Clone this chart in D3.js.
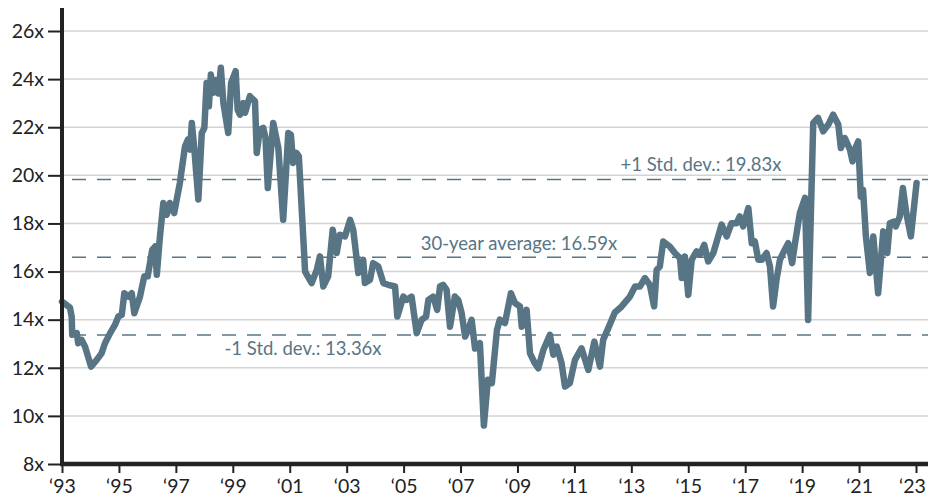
<!DOCTYPE html>
<html>
<head>
<meta charset="utf-8">
<script src="https://cdn.jsdelivr.net/npm/d3@7"></script>
<style>
body{margin:0;background:#fff;}
svg text{font-family:Lato,"Open Sans",sans-serif;}
</style>
</head>
<body>
<script>
// forward P/E values (decimal year, multiple)
const years=[1993.00,1993.28,1993.34,1993.36,1993.52,1993.57,1993.69,1993.81,1994.02,1994.22,1994.39,1994.51,1994.69,1994.86,1994.98,1995.10,1995.19,1995.33,1995.45,1995.54,1995.74,1995.89,1996.01,1996.17,1996.27,1996.33,1996.44,1996.56,1996.68,1996.79,1996.94,1997.14,1997.32,1997.42,1997.50,1997.56,1997.65,1997.79,1997.91,1998.00,1998.08,1998.16,1998.23,1998.31,1998.40,1998.49,1998.58,1998.67,1998.84,1998.94,1999.10,1999.17,1999.25,1999.37,1999.43,1999.60,1999.78,1999.84,1999.95,2000.07,2000.15,2000.23,2000.42,2000.60,2000.77,2000.95,2001.04,2001.12,2001.24,2001.32,2001.54,2001.77,2001.95,2002.06,2002.18,2002.35,2002.51,2002.65,2002.76,2002.94,2003.12,2003.23,2003.41,2003.58,2003.64,2003.82,2003.93,2004.11,2004.29,2004.46,2004.70,2004.78,2004.99,2005.11,2005.28,2005.46,2005.63,2005.79,2005.87,2006.04,2006.18,2006.28,2006.39,2006.51,2006.63,2006.80,2006.92,2007.04,2007.16,2007.27,2007.39,2007.51,2007.68,2007.82,2007.96,2008.10,2008.28,2008.38,2008.56,2008.77,2008.91,2009.09,2009.15,2009.32,2009.44,2009.61,2009.73,2009.91,2010.14,2010.26,2010.38,2010.55,2010.67,2010.84,2011.02,2011.25,2011.49,2011.70,2011.90,2012.01,2012.19,2012.42,2012.66,2012.95,2013.13,2013.30,2013.48,2013.65,2013.80,2013.89,2014.00,2014.12,2014.35,2014.53,2014.71,2014.77,2014.88,2015.00,2015.12,2015.29,2015.41,2015.56,2015.70,2015.88,2016.00,2016.17,2016.35,2016.52,2016.70,2016.81,2016.93,2017.11,2017.23,2017.34,2017.46,2017.58,2017.75,2017.87,2017.98,2018.10,2018.22,2018.33,2018.51,2018.65,2018.75,2018.92,2019.10,2019.21,2019.39,2019.56,2019.74,2019.92,2020.09,2020.27,2020.36,2020.50,2020.68,2020.77,2020.85,2020.97,2021.06,2021.14,2021.24,2021.38,2021.50,2021.67,2021.85,2021.99,2022.08,2022.23,2022.29,2022.43,2022.54,2022.66,2022.82,2023.02];
const pe=[14.75,14.5,14.13,13.37,13.44,13.02,13.16,12.88,12.05,12.33,12.6,13.02,13.44,13.78,14.13,14.2,15.1,14.96,15.1,14.27,14.96,15.8,15.8,16.9,17.04,15.87,17.46,18.85,18.36,18.85,18.43,19.68,21.2,21.48,21.07,22.18,21.07,19.0,21.76,21.97,23.84,22.87,24.19,23.43,23.96,23.4,24.47,23.0,21.76,23.84,24.33,22.73,22.52,23.0,22.6,23.29,23.08,20.93,21.9,21.97,21.55,19.47,22.18,21.14,18.15,21.76,21.69,20.51,20.93,20.79,16.0,15.52,16.07,16.63,15.38,15.8,17.74,16.77,17.53,17.46,18.15,17.74,15.94,16.49,15.52,15.66,16.35,16.21,15.52,15.45,15.38,14.13,14.96,14.82,14.96,13.44,13.99,14.13,14.82,14.96,14.41,15.38,15.45,15.24,13.71,14.96,14.82,14.27,13.3,13.58,13.99,12.8,13.02,9.6,11.5,11.36,13.58,14.0,13.86,15.1,14.69,14.55,13.71,14.41,12.6,12.19,11.98,12.74,13.37,12.54,12.88,12.19,11.22,11.36,12.33,12.81,11.91,13.09,12.05,13.16,13.65,14.3,14.55,14.96,15.38,15.38,15.73,15.45,14.55,16.07,16.21,17.25,17.04,16.77,16.56,15.73,16.63,15.03,16.49,16.84,16.7,17.11,16.42,16.77,17.25,17.95,17.46,18.01,18.01,18.29,17.88,18.64,17.18,17.25,16.49,16.49,16.77,16.21,14.55,15.66,16.49,16.77,17.18,16.35,17.18,18.43,19.06,13.99,22.18,22.39,21.83,22.11,22.52,22.11,21.14,21.55,21.07,20.58,21.07,21.41,19.12,19.4,17.46,15.94,17.46,15.1,17.67,16.77,18.01,18.08,17.88,18.29,19.47,18.43,17.46,19.68];

const yTicks=[8,10,12,14,16,18,20,22,24,26];
const xTicks=[1993,1995,1997,1999,2001,2003,2005,2007,2009,2011,2013,2015,2017,2019,2021,2023];

const refValues=[19.83,16.59,13.36];
const refLabels=["+1 Std. dev.: 19.83x","30-year average: 16.59x","-1 Std. dev.: 13.36x"];

const w=928,h=500;
const padLeft=62,padRight=928,padTop=31,padBottom=464;
const slate="#587585";

const svg=d3.select("body").append("svg")
  .attr("width",w).attr("height",h);

const x=d3.scaleLinear().domain([1993,2023]).range([padLeft,916]);
const y=d3.scaleLinear().domain([8,26]).range([padBottom,padTop]);

// gridlines
svg.append("g").selectAll("line")
  .data(yTicks.slice(1))
  .enter().append("line")
  .attr("x1",padLeft).attr("x2",padRight)
  .attr("y1",d=>y(d)).attr("y2",d=>y(d))
  .attr("stroke","#d3d3d3").attr("stroke-width",1.5);

// reference dashed lines
svg.append("g").selectAll("line")
  .data(refValues)
  .enter().append("line")
  .attr("x1",72).attr("x2",padRight)
  .attr("y1",d=>y(d)).attr("y2",d=>y(d))
  .attr("stroke",slate).attr("stroke-width",1.5)
  .attr("stroke-dasharray","14,11");

// labels for reference lines
const labelPos=[[701,-8],[519,-7],[303,20]];
svg.append("g").selectAll("text")
  .data(refLabels)
  .enter().append("text")
  .attr("x",(d,i)=>labelPos[i][0])
  .attr("y",(d,i)=>y(refValues[i])+labelPos[i][1])
  .attr("text-anchor","middle")
  .attr("fill",slate)
  .style("font-size","18.5px")
  .text(d=>d);

// line
const data=years.map((d,i)=>({t:d,v:pe[i]}));
svg.append("path")
  .datum(data)
  .attr("fill","none")
  .attr("stroke",slate)
  .attr("stroke-width",6.5)
  .attr("stroke-linejoin","round")
  .attr("stroke-linecap","round")
  .attr("d",d3.line().x(d=>x(d.t)).y(d=>y(d.v)));

// axes
const yAxis=d3.axisLeft(y).tickValues(yTicks).tickFormat(d=>d+"x").tickSize(14).tickPadding(4);
const xAxis=d3.axisBottom(x).tickValues(xTicks).tickFormat(d=>"\u2018"+String(d).slice(2)).tickSize(9).tickPadding(6);

const gy=svg.append("g").attr("transform","translate("+padLeft+",0)").call(yAxis);
gy.select(".domain").remove();
gy.selectAll(".tick line").attr("stroke","#222").attr("stroke-width",2);
gy.selectAll("text").attr("fill","#222").style("font-size","19.5px");

const gx=svg.append("g").attr("transform","translate(0,"+padBottom+")").call(xAxis);
gx.select(".domain").remove();
gx.selectAll(".tick line").attr("stroke","#222").attr("stroke-width",2);
gx.selectAll("text").attr("fill","#222").style("font-size","19.5px")
  .attr("dx",d=>d===2023?"-4":"0");

svg.append("line")
  .attr("x1",padLeft).attr("x2",padLeft).attr("y1",8).attr("y2",padBottom+2)
  .attr("stroke","#222").attr("stroke-width",4);
svg.append("line")
  .attr("x1",padLeft-2).attr("x2",padRight).attr("y1",padBottom).attr("y2",padBottom)
  .attr("stroke","#222").attr("stroke-width",4.5);
</script>
</body>
</html>
